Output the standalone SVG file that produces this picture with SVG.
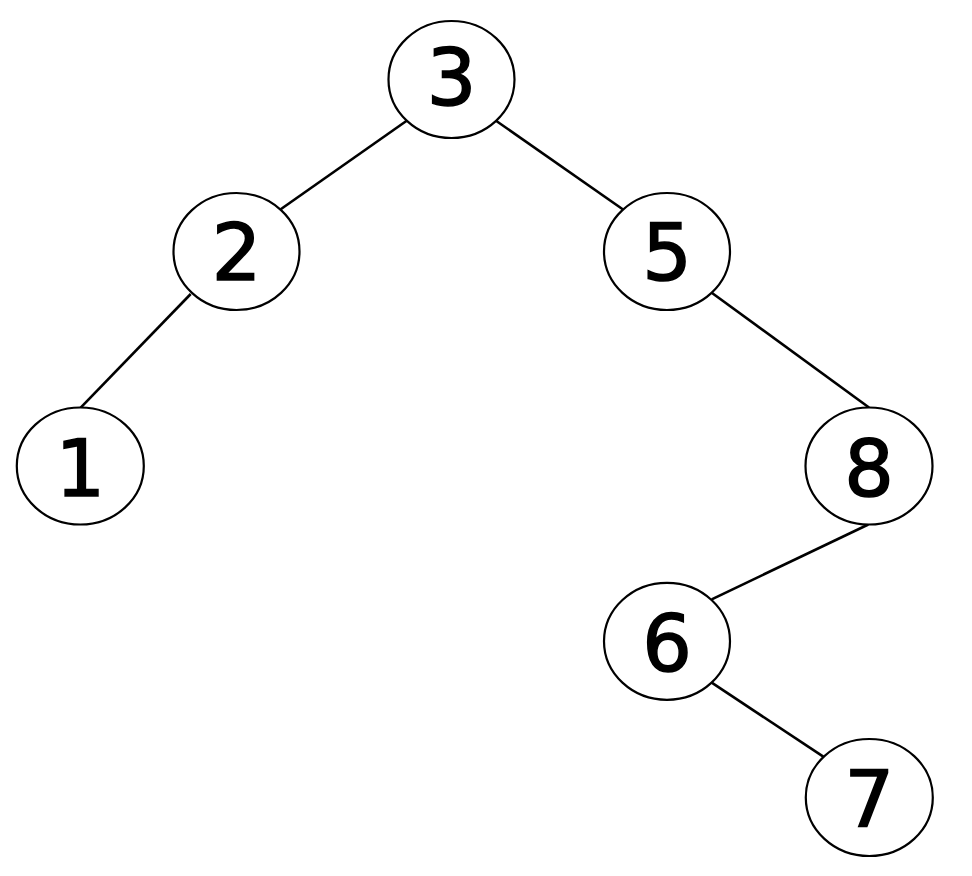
<svg xmlns="http://www.w3.org/2000/svg" width="972" height="876" viewBox="0 0 972 876">
<style>
.n ellipse{fill:#fff;stroke:#000;stroke-width:2.2}
.n text{font-family:"DejaVu Sans",sans-serif;font-size:78px;text-anchor:middle;fill:#000;stroke:#000;stroke-width:1.6}
.e line{stroke:#000;stroke-width:2.6}
</style>
<rect width="972" height="876" fill="#fff"/>
<g class="e" id="connectors">
<line x1="406.7" y1="120.7" x2="280.7" y2="209.3"/>
<line x1="496" y1="120.7" x2="622.7" y2="209.3"/>
<line x1="190.7" y1="294" x2="80.7" y2="407.7"/>
<line x1="711.7" y1="292.7" x2="869" y2="407.5"/>
<line x1="868.3" y1="524.5" x2="711.7" y2="599.3"/>
<line x1="711.7" y1="682.7" x2="823.3" y2="756.7"/>
</g>
<g class="n" id="node3"><ellipse cx="451.5" cy="79.5" rx="63" ry="58.5"/><text x="451.5" y="105">3</text></g>
<g class="n" id="node2"><ellipse cx="236.5" cy="251.5" rx="63" ry="58.5"/><text x="236.5" y="280">2</text></g>
<g class="n" id="node5"><ellipse cx="667" cy="251.5" rx="63" ry="58.5"/><text x="667" y="280">5</text></g>
<g class="n" id="node1"><ellipse cx="80.3" cy="466" rx="63.5" ry="58.5"/><text x="80.3" y="495.5">1</text></g>
<g class="n" id="node8"><ellipse cx="869" cy="466" rx="63.5" ry="58.5"/><text x="869" y="495.5">8</text></g>
<g class="n" id="node6"><ellipse cx="667" cy="641.3" rx="63" ry="58.5"/><text x="667" y="671">6</text></g>
<g class="n" id="node7"><ellipse cx="869.3" cy="797.5" rx="63.5" ry="58.5"/><text x="869.3" y="827">7</text></g>
</svg>
